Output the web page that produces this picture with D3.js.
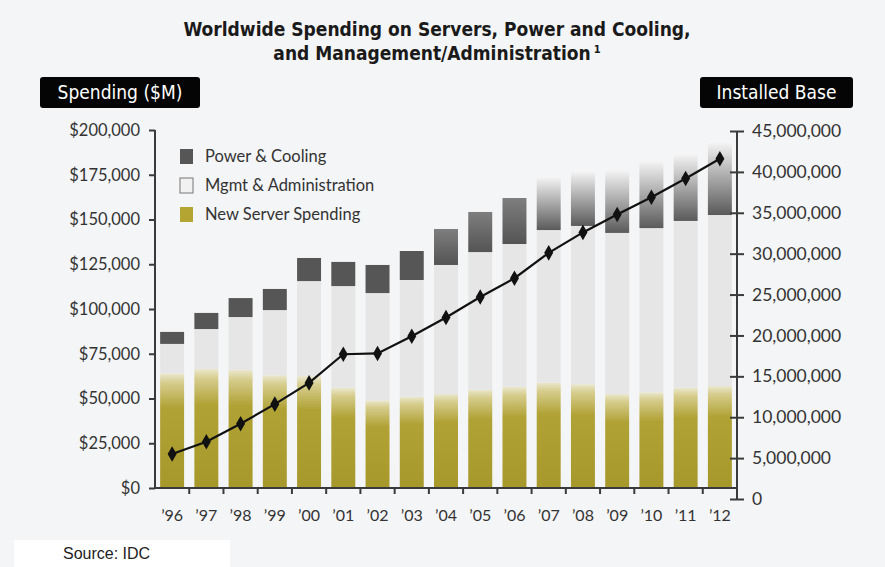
<!DOCTYPE html>
<html>
<head>
<meta charset="utf-8">
<script src="https://cdn.jsdelivr.net/npm/d3@7"></script>
<style>
  body { margin: 0; background: #f4f5f6; }
  svg { display: block; }
</style>
</head>
<body>
<script>
var years = ["\u201996","\u201997","\u201998","\u201999","\u201900","\u201901","\u201902","\u201903","\u201904",
             "\u201905","\u201906","\u201907","\u201908","\u201909","\u201910","\u201911","\u201912"];
// $M
var newServer = [64000, 66500, 66000, 63000, 62500, 56000, 49000, 51000, 52500, 55000, 56500, 59000, 58000, 52500, 53500, 56000, 57000];
var mgmtAdmin = [16500, 22300, 29500, 36400, 53100, 56800, 59900, 65200, 72100, 76800, 79800, 85100, 88400, 90000, 91700, 93200, 95500];
var powerCooling = [6700, 9000, 10600, 11800, 12900, 13500, 15700, 16200, 20100, 22400, 25700, 29100, 30100, 34600, 36900, 36800, 40200];
// installed base, millions of servers
var installedBase = [5.5, 7.0, 9.2, 11.6, 14.2, 17.7, 17.8, 19.9, 22.2, 24.7, 27.0, 30.1, 32.6, 34.8, 36.9, 39.2, 41.6];
var leftTicks = [0, 25000, 50000, 75000, 100000, 125000, 150000, 175000, 200000];
var rightTicks = [0, 5e6, 10e6, 15e6, 20e6, 25e6, 30e6, 35e6, 40e6, 45e6];
var legendLabels = ["Power & Cooling", "Mgmt & Administration", "New Server Spending"];

var W = 885, H = 567;
var font = "'Lato', 'DejaVu Sans', sans-serif";
var condensed = "'DejaVu Sans Condensed', 'Liberation Sans Narrow', sans-serif";

var svg = d3.select('body').append('svg')
  .attr('width', W).attr('height', H);

svg.append('rect').attr('width', W).attr('height', H).attr('fill', '#f4f5f6');

var defs = svg.append('defs');
function grad(id, stops) {
  var g = defs.append('linearGradient').attr('id', id)
    .attr('x1', 0).attr('y1', 0).attr('x2', 0).attr('y2', 1);
  stops.forEach(function(s) {
    g.append('stop').attr('offset', s[0]).attr('stop-color', s[1]);
  });
}
grad('gold', [[0, '#ebe7cf'], [0.08, '#d6cd8e'], [0.3, '#b1a236'], [1, '#a7982b']]);
grad('pcMid', [[0, '#7e7e7e'], [1, '#545454']]);
grad('pcLight', [[0, '#f2f2f2'], [1, '#5a5a5a']]);

var x = d3.scaleBand().domain(years).range([155, 737]).paddingInner(0.3).paddingOuter(0.15);
var yL = d3.scaleLinear().domain([0, 200000]).range([488, 130]);
var yR = d3.scaleLinear().domain([0, 45e6]).range([499, 131]);

var rows = years.map(function(y, i) {
  return { year: y, ns: newServer[i], ma: mgmtAdmin[i], pc: powerCooling[i], i: i };
});
var stack = d3.stack().keys(['ns', 'ma', 'pc'])(rows);

var fills = {
  ns: function() { return 'url(#gold)'; },
  ma: function() { return '#e6e6e6'; },
  pc: function(d) { return d.data.i < 8 ? '#565656' : (d.data.i < 11 ? 'url(#pcMid)' : 'url(#pcLight)'); }
};

svg.append('g').selectAll('g')
  .data(stack)
  .enter().append('g')
  .each(function(layer) {
    d3.select(this).selectAll('rect')
      .data(layer)
      .enter().append('rect')
      .attr('x', function(d) { return x(d.data.year); })
      .attr('width', x.bandwidth())
      .attr('y', function(d) { return yL(d[1]); })
      .attr('height', function(d) { return yL(d[0]) - yL(d[1]); })
      .attr('fill', fills[layer.key]);
  });

// installed base line
var line = d3.line()
  .x(function(d, i) { return x(years[i]) + x.bandwidth() / 2; })
  .y(function(d) { return yR(d * 1e6); });

svg.append('path').datum(installedBase)
  .attr('d', line).attr('fill', 'none')
  .attr('stroke', '#111').attr('stroke-width', 2.2);

svg.append('g').selectAll('path')
  .data(installedBase)
  .enter().append('path')
  .attr('d', d3.symbol().type(d3.symbolDiamond).size(70))
  .attr('transform', function(d, i) {
    return 'translate(' + (x(years[i]) + x.bandwidth() / 2) + ',' + yR(d * 1e6) + ')';
  })
  .attr('fill', '#111');

// left axis
var leftAxis = svg.append('g')
  .attr('transform', 'translate(155,0)')
  .call(d3.axisLeft(yL).tickValues(leftTicks).tickSize(6).tickPadding(9)
    .tickFormat(function(d) { return '$' + d3.format(',')(d); }));

// right axis
var rightAxis = svg.append('g')
  .attr('transform', 'translate(737,0)')
  .call(d3.axisRight(yR).tickValues(rightTicks).tickSize(7).tickPadding(8)
    .tickFormat(d3.format(',')));
rightAxis.selectAll('.tick line').attr('x1', -7);

// bottom axis
var bottomAxis = svg.append('g')
  .attr('transform', 'translate(0,488)')
  .call(d3.axisBottom(x).tickSize(0).tickPadding(22));
var bounds = years.slice(1).map(function(y) { return x(y) - x.step() * x.paddingInner() / 2; });
bottomAxis.selectAll('.bnd').data(bounds).enter().append('line')
  .attr('x1', function(d) { return d; }).attr('x2', function(d) { return d; })
  .attr('y1', 0).attr('y2', 6)
  .attr('stroke', '#3a3a3a').attr('stroke-width', 2);

[leftAxis, rightAxis, bottomAxis].forEach(function(a) {
  a.select('.domain').attr('stroke', '#3a3a3a').attr('stroke-width', 2);
  a.selectAll('.tick line').attr('stroke', '#3a3a3a').attr('stroke-width', 2);
  a.selectAll('text').attr('font-family', font).attr('fill', '#333');
});
leftAxis.selectAll('text').attr('font-size', 16.5);
rightAxis.selectAll('text').attr('font-size', 17.5);
bottomAxis.selectAll('text').attr('font-size', 16);
leftAxis.select('.domain').attr('d', 'M0,130V488');
rightAxis.select('.domain').attr('d', 'M0,131V499');
bottomAxis.select('.domain').attr('d', 'M155,0H737');

// legend
var legendColors = ['#565656', '#f1f1f1', '#b4a532'];
var lg = svg.append('g');
legendLabels.forEach(function(t, i) {
  var yy = 149 + i * 29;
  lg.append('rect').attr('x', 180).attr('y', yy).attr('width', 13).attr('height', 15)
    .attr('fill', legendColors[i]).attr('stroke', i === 1 ? '#777' : 'none').attr('stroke-width', 1);
  lg.append('text').attr('x', 205).attr('y', yy + 13).text(t)
    .attr('font-family', font).attr('font-size', 16.5).attr('fill', '#333');
});

// title
var title = svg.append('g').attr('font-family', condensed)
  .attr('font-weight', 'bold').attr('font-size', 19).attr('fill', '#1a1a1a').attr('text-anchor', 'middle');
title.append('text').attr('x', 437).attr('y', 36).text('Worldwide Spending on Servers, Power and Cooling,');
var t2 = title.append('text').attr('x', 437).attr('y', 60);
t2.append('tspan').text('and Management/Administration');
t2.append('tspan').attr('font-size', 11).attr('dy', -7).attr('dx', 3).text('1');

// axis title badges
function badge(x0, w, label) {
  svg.append('rect').attr('x', x0).attr('y', 77).attr('width', w).attr('height', 31)
    .attr('rx', 3).attr('fill', '#050505');
  svg.append('text').attr('x', x0 + w / 2).attr('y', 99).attr('text-anchor', 'middle')
    .attr('font-family', condensed)
    .attr('font-size', 19).attr('fill', '#fff').text(label);
}
badge(40, 160, 'Spending ($M)');
badge(700, 153, 'Installed Base');

// source
svg.append('rect').attr('x', 14).attr('y', 540).attr('width', 216).attr('height', 27).attr('fill', '#fff');
svg.append('text').attr('x', 63).attr('y', 559)
  .attr('font-family', "'Liberation Sans', Arial, sans-serif").attr('font-size', 16).attr('fill', '#222')
  .text('Source: IDC');
</script>
</body>
</html>
